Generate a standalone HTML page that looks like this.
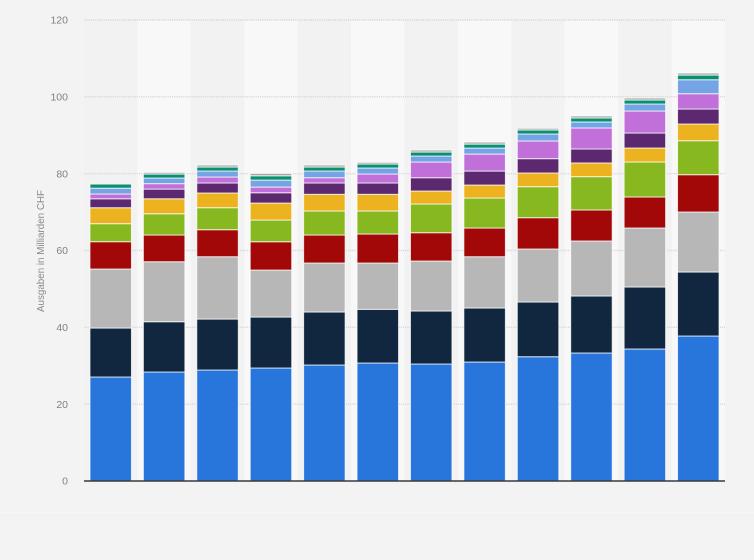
<!DOCTYPE html>
<html lang="de">
<head>
<meta charset="utf-8">
<title>Ausgaben in Milliarden CHF</title>
<style>
html,body{margin:0;padding:0;background:#f3f3f3;}
body{width:754px;height:560px;overflow:hidden;}
svg{display:block;font-family:"Liberation Sans",sans-serif;}
</style>
</head>
<body>
<svg id="chart" xmlns="http://www.w3.org/2000/svg" width="754" height="560" viewBox="0 0 754 560">
<rect x="0" y="0" width="754" height="560" fill="#f3f3f3"></rect>
<line x1="0" x2="754" y1="512.5" y2="512.5" stroke="#f6f6f6"></line>
<g id="bands"></g>
<g id="grid"></g>
<g id="bars"></g>
<line x1="84" x2="725" y1="481" y2="481" stroke="#3a3a3a" stroke-width="1.4"></line>
<g id="ticks"></g>
<text transform="translate(44,251) rotate(-90)" text-anchor="middle" font-size="9.8" fill="#8a8a8a">Ausgaben in Milliarden CHF</text>
</svg>
<script>
const tickLabels = [0, 20, 40, 60, 80, 100, 120];
const blue = [27.07, 28.37, 28.89, 29.41, 30.19, 30.71, 30.45, 30.97, 32.35, 33.32, 34.36, 37.74];
const navy = [12.75, 13.09, 13.27, 13.27, 13.8, 13.98, 13.8, 14.06, 14.24, 14.84, 16.14, 16.66];
const gray = [15.36, 15.62, 16.22, 12.23, 12.75, 12.05, 13.01, 13.35, 13.8, 14.32, 15.36, 15.62];
const red = [7.11, 6.95, 7.03, 7.37, 7.29, 7.55, 7.37, 7.47, 8.15, 8.07, 8.07, 9.71];
const green = [4.69, 5.54, 5.73, 5.65, 6.25, 5.99, 7.47, 7.81, 8.07, 8.67, 9.11, 8.85];
const yellow = [4.16, 3.9, 3.83, 4.42, 4.35, 4.35, 3.38, 3.38, 3.57, 3.57, 3.64, 4.35];
const purple = [2.32, 2.52, 2.6, 2.68, 2.94, 2.94, 3.46, 3.64, 3.72, 3.64, 3.9, 3.9];
const pink = [1.25, 1.41, 1.56, 1.48, 1.38, 2.34, 4.09, 4.42, 4.61, 5.47, 5.73, 3.98];
const lightBlue = [1.51, 1.46, 1.56, 1.82, 1.74, 1.56, 1.56, 1.56, 1.82, 1.56, 1.82, 3.64];
const teal = [1.09, 1.04, 1.04, 1.12, 1.04, 1.04, 1.04, 1.04, 1.04, 1.04, 1.04, 1.22];
const topGray = [0.1, 0.44, 0.52, 0.62, 0.52, 0.44, 0.52, 0.52, 0.44, 0.52, 0.52, 0.52];

const seriesList = [blue, navy, gray, red, green, yellow, purple, pink, lightBlue, teal, topGray];
const seriesNames = ['blue', 'navy', 'gray', 'red', 'green', 'yellow', 'purple', 'pink', 'light-blue', 'teal', 'top-gray'];
const seriesColors = ['#2875dc', '#10273f', '#b7b7b7', '#a30808', '#88b820', '#ecb220', '#5c2870', '#c070d8', '#74a4e4', '#0a9070', '#a8a8a8'];

const NS = 'http://www.w3.org/2000/svg';
const plotLeft = 84, plotRight = 725, plotTop = 20, plotBottom = 481, axisMax = 120;
const barCount = blue.length;
const bandWidth = (plotRight - plotLeft) / barCount;
const barWidth = 41.5;
const yScale = v => plotBottom - v / axisMax * (plotBottom - plotTop);
const xBand = i => plotLeft + i * bandWidth;

function make(tag, attrs, parent) {
  const el = document.createElementNS(NS, tag);
  for (const k in attrs) el.setAttribute(k, attrs[k]);
  parent.appendChild(el);
  return el;
}

const bandsG = document.getElementById('bands');
const gridG = document.getElementById('grid');
const barsG = document.getElementById('bars');
const ticksG = document.getElementById('ticks');

for (let i = 0; i < barCount; i++) {
  const band = make('rect', {x: xBand(i), y: plotTop, width: bandWidth, height: plotBottom - plotTop, fill: i % 2 ? '#f8f8f8' : '#f2f2f2'}, bandsG);
  
  
}

tickLabels.forEach(t => {
  const y = yScale(t);
  if (t > 0) {
    const line = make('line', {x1: plotLeft, x2: plotRight, y1: y, y2: y, stroke: '#d8d8d8', 'stroke-width': 1.4, 'stroke-dasharray': '1.2 1'}, gridG);
    
    
  }
  const label = make('text', {x: 68, y: y + 3.6, 'text-anchor': 'end', 'font-size': 10.5, fill: '#808080'}, ticksG);
  
  
  label.textContent = t;
});

for (let i = 0; i < barCount; i++) {
  let cum = 0;
  const x = xBand(i) + (bandWidth - barWidth) / 2;
  seriesList.forEach((values, s) => {
    const v = values[i];
    const y0 = yScale(cum);
    const y1 = yScale(cum + v);
    cum += v;
    const seg = make('rect', {x: x, y: y1, width: barWidth, height: Math.max(y0 - y1, 0.1), fill: seriesColors[s], stroke: '#ffffff', 'stroke-opacity': 0.75, 'stroke-width': 1}, barsG);
    
    
  });
}
</script>
</body>
</html>
